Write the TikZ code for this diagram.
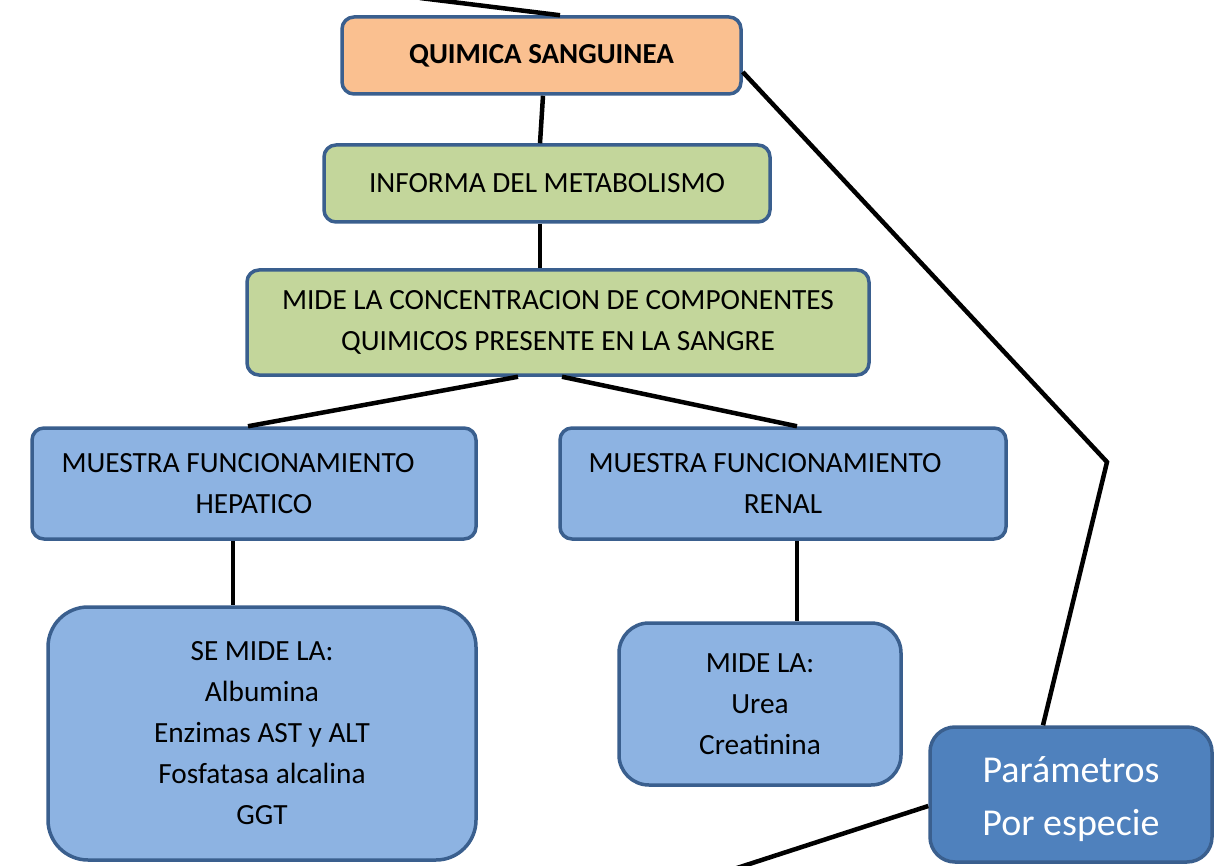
\documentclass[tikz,border=0pt]{standalone}
\usepackage{fontspec}
\setmainfont{Carlito}
\usetikzlibrary{calc}
\definecolor{orangefill}{HTML}{FAC090}
\definecolor{greenfill}{HTML}{C3D69B}
\definecolor{bluefill}{HTML}{8DB3E2}
\definecolor{darkfill}{HTML}{4F81BD}
\definecolor{edgeblue}{HTML}{3A5F8E}
\tikzset{
  box/.style={draw=edgeblue, line width=3.5pt, rounded corners=12pt, align=center,
    inner sep=0pt, font=\fontsize{29.3}{41}\selectfont, text=black},
  link/.style={line width=4.5pt, black}
}
\begin{document}
\begin{tikzpicture}[x=1pt,y=-1pt]
\useasboundingbox (0,0) rectangle (1223,866);
\clip (0,0) rectangle (1223,866);
\fill[white] (0,0) rectangle (1223,866);

\node[box, fill=orangefill, minimum width=399pt, minimum height=77pt,
  font=\fontsize{29}{41}\selectfont\bfseries] (q) at (541.5,55.5) {QUIMICA SANGUINEA};
\node[box, fill=greenfill, minimum width=446pt, minimum height=77pt] (i) at (547,183.5) {INFORMA DEL METABOLISMO};
\node[box, fill=greenfill, minimum width=622pt, minimum height=105pt] (m) at (558,322.5)
  {MIDE LA CONCENTRACION DE COMPONENTES\\QUIMICOS PRESENTE EN LA SANGRE};
\node[box, fill=bluefill, minimum width=444pt, minimum height=111pt] (h) at (254,483.5)
  {MUESTRA FUNCIONAMIENTO\hspace*{32pt}\\HEPATICO};
\node[box, fill=bluefill, minimum width=446pt, minimum height=111pt] (r) at (783,483.5)
  {MUESTRA FUNCIONAMIENTO\hspace*{36pt}\\RENAL};
\node[box, fill=bluefill, minimum width=428pt, minimum height=253pt, rounded corners=40pt] (s) at (262,733.5)
  {SE MIDE LA:\\Albumina\\Enzimas AST y ALT\\Fosfatasa alcalina\\GGT};
\node[box, fill=bluefill, minimum width=282pt, minimum height=162pt, rounded corners=30pt] (ml) at (760,704)
  {MIDE LA:\\Urea\\Creatinina};
\node[box, fill=darkfill, minimum width=282pt, minimum height=135pt, rounded corners=25pt,
  label={[text=white, align=center, font=\fontsize{38}{53}\selectfont, yshift=-5pt]center:{Parámetros\\Por especie}}]
  (p) at (1071,794.5) {};

\coordinate (topfree) at (420,-2);
\coordinate (bend) at (1107,462);
\coordinate (botfree) at (700,880);

\draw[link] (topfree) -- ([xshift=18.5pt]q.north);
\draw[link] ([xshift=1.5pt]q.south) -- ([xshift=-7pt]i.north);
\draw[link] ([xshift=-7pt]i.south) -- ([xshift=-18pt]m.north);
\draw[link] ([xshift=-40pt]m.south) -- ([xshift=-6pt]h.north);
\draw[link] ([xshift=4pt]m.south) -- ([xshift=14pt]r.north);
\draw[link] ([xshift=-21pt]h.south) -- ([xshift=-29pt]s.north);
\draw[link] ([xshift=14pt]r.south) -- ([xshift=37pt]ml.north);
\draw[link, line join=miter] ([yshift=-16.5pt]q.east) -- (bend) -- ([xshift=-28pt]p.north);
\draw[link] ([yshift=-11.5pt]p.west) -- (botfree);
\end{tikzpicture}
\end{document}
